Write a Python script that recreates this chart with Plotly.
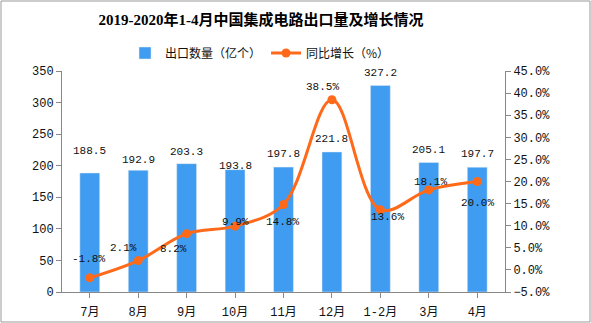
import plotly.graph_objects as go

categories = ["7月", "8月", "9月", "10月", "11月", "12月", "1-2月", "3月", "4月"]
export_vol = [188.5, 192.9, 203.3, 193.8, 197.8, 221.8, 327.2, 205.1, 197.7]
growth = [-1.8, 2.1, 8.2, 9.9, 14.8, 38.5, 13.6, 18.1, 20.0]

# label offsets (styling, in pixels)
bar_lbl_shift = [22, 10, 12, 4, 13, 13, 12, 12, 13]
line_lbl_dx = [-1, -15, -13, 0, -1, -9, 7, 2, 0]
line_lbl_dy = [19, 13, -15, 4, -18, 13, -7, 8, -21]

W, H = 591, 323
L, R, T, B = 62, 86, 71, 31
pw, ph = W - L - R, H - T - B

MONO = "Liberation Mono, Noto Sans CJK SC"

fig = go.Figure()
fig.add_trace(go.Bar(
    x=categories, y=export_vol, name="出口数量（亿个）",
    marker_color="#3F9CF0", width=0.41,
))
fig.add_trace(go.Scatter(
    x=categories, y=growth, name="同比增长（%）", yaxis="y2",
    mode="lines+markers",
    line=dict(color="#FF6A1A", width=3, shape="spline", smoothing=1.0),
    marker=dict(size=9, color="#FF6A1A"),
    cliponaxis=False,
))

annotations = []
for c, v, s in zip(categories, export_vol, bar_lbl_shift):
    annotations.append(dict(x=c, y=v, xref="x", yref="y", text=f"{v:.1f}",
                            showarrow=False, yshift=s, yanchor="middle",
                            font=dict(family=MONO, size=11, color="#111")))
for c, v, dx, dy in zip(categories, growth, line_lbl_dx, line_lbl_dy):
    annotations.append(dict(x=c, y=v, xref="x", yref="y2", text=f"{v:.1f}%",
                            showarrow=False, xshift=dx, yshift=dy, yanchor="middle",
                            font=dict(family=MONO, size=11, color="#111")))

fig.update_layout(
    width=W, height=H,
    margin=dict(l=L, r=R, t=T, b=B),
    paper_bgcolor="white", plot_bgcolor="white",
    font=dict(family="Noto Sans CJK SC", size=13, color="#111"),
    title=dict(text="<b>2019-2020年1-4月中国集成电路出口量及增长情况</b>",
               x=0.449, xref="paper", xanchor="center", y=1 - 20 / H, yanchor="middle",
               font=dict(family="Liberation Serif, Noto Sans CJK SC", size=15, color="#000")),
    legend=dict(orientation="h", x=0.447, xref="paper", xanchor="center",
                y=1 + 18 / ph, yanchor="middle", font=dict(size=12),
                bgcolor="rgba(0,0,0,0)"),
    xaxis=dict(showline=True, linecolor="#888", ticks="outside", tickcolor="#888",
               ticklen=5, showgrid=False, automargin=False, ticklabelstandoff=4,
               tickfont=dict(family=MONO, size=12)),
    yaxis=dict(range=[0, 350], dtick=50, showline=True, linecolor="#888",
               ticks="outside", tickcolor="#888", ticklen=5, showgrid=False,
               zeroline=False, automargin=False, tickfont=dict(family=MONO, size=12)),
    yaxis2=dict(range=[-5, 45], dtick=5, overlaying="y", side="right",
                showline=True, linecolor="#888", ticks="outside", tickcolor="#888",
                ticklen=5, showgrid=False, zeroline=False, automargin=False,
                tickformat=".1f", ticksuffix="%", tickfont=dict(family=MONO, size=12)),
    annotations=annotations,
    showlegend=True,
)

fig.add_shape(type="rect", xref="paper", yref="paper",
              x0=-(L - 1) / pw, x1=1 + (R - 1) / pw,
              y0=-(B - 1) / ph, y1=1 + (T - 1) / ph,
              line=dict(color="#999", width=1), layer="below")

fig.write_html("out.html")
